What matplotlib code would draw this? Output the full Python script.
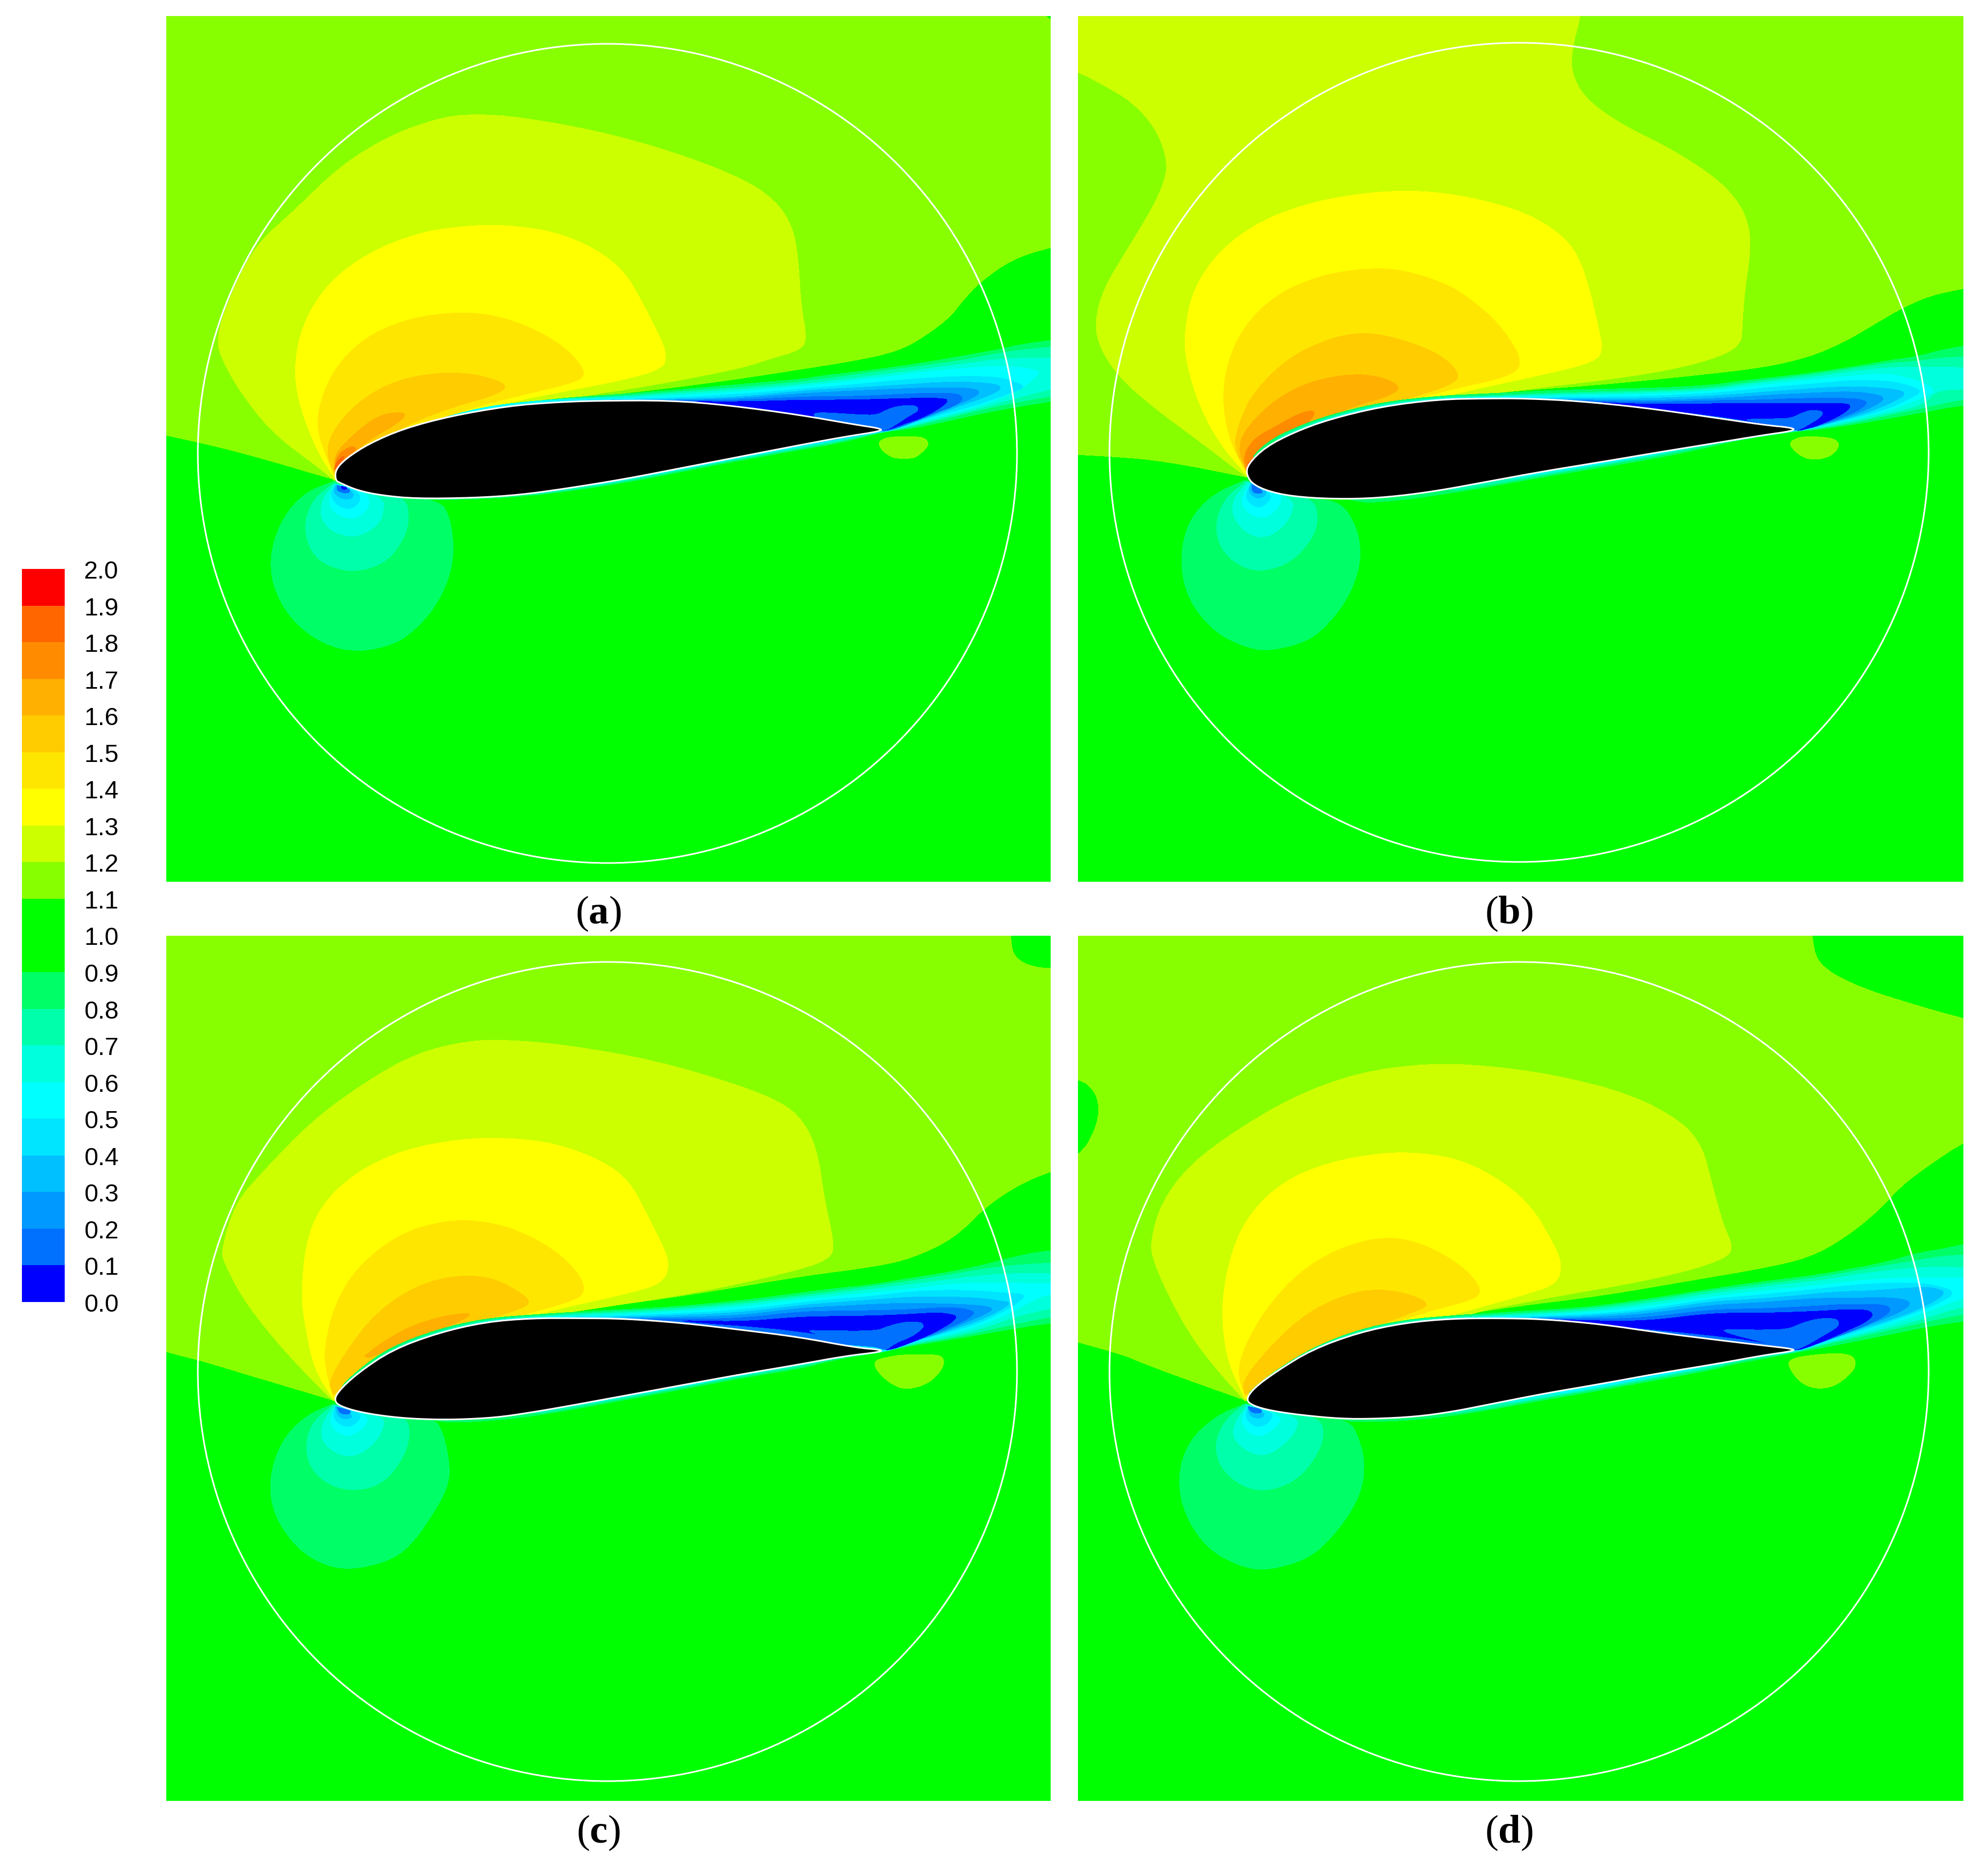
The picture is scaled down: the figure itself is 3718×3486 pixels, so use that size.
import matplotlib
matplotlib.use("Agg")
import matplotlib.pyplot as plt
import numpy as np
from matplotlib.colors import BoundaryNorm, ListedColormap
from matplotlib.patches import Circle

W, H = 3718, 3487

# colour bar: one colour per 0.1 band, bottom to top
levels = [round(i * 0.1, 1) for i in range(21)]
band_colors = ["#0000ff", "#0070ff", "#0099ff", "#00c0ff", "#00e5ff", "#00ffff", "#00ffdd",
               "#00ffaa", "#00ff66", "#00ff00", "#00ff00", "#88ff00", "#ccff00", "#ffff00",
               "#ffe600", "#ffcc00", "#ffb000", "#ff8c00", "#ff6600", "#ff0000"]
captions = ["a", "b", "c", "d"]

# contours, (band, outline). Coordinates are crop coordinates,
# turned to image pixels with the frames further down
field_a = [
    (1.0, [(-300, 840), (10, 950), (65, 968), (150, 1000), (300, 1068), (300, 1068), (300, 1068), (660, 860), (800, 838), (950, 810), (1100, 775), (1200, 750), (1260, 730), (1300, 705), (1360, 640), (1385, 590), (1415, 540), (1470, 480), (1535, 448), (1800, 350), (1800, 2500), (-300, 2500)]),
    (1.0, [(1528, -190), (1528, -160), (1600, -150), (1600, -190)]),
    (1.2, [(300, 1068), (270, 1030), (200, 950), (150, 860), (110, 760), (95, 690), (125, 560), (165, 440), (230, 350), (310, 230), (400, 145), (490, 98), (550, 92), (620, 100), (750, 135), (880, 190), (1000, 260), (1060, 320), (1090, 390), (1100, 470), (1105, 600), (1115, 690), (1105, 720), (1050, 745), (1000, 770), (850, 815), (700, 850), (620, 880)]),
    (1.3, [(300, 1060), (270, 990), (240, 870), (230, 770), (245, 650), (290, 540), (360, 460), (450, 405), (540, 388), (600, 388), (680, 405), (750, 450), (800, 510), (830, 590), (860, 680), (873, 730), (868, 770), (800, 800), (700, 830), (600, 860), (500, 900), (400, 960), (320, 1030)]),
    (1.4, [(300, 1055), (285, 1000), (270, 930), (275, 860), (300, 770), (350, 690), (420, 640), (500, 620), (570, 625), (640, 660), (700, 715), (735, 780), (720, 805), (640, 835), (560, 865), (480, 905), (400, 955), (330, 1020)]),
    (1.5, [(300, 1050), (285, 990), (300, 930), (340, 860), (400, 805), (470, 782), (530, 782), (580, 800), (600, 820), (570, 845), (510, 870), (440, 910), (380, 960), (320, 1025)]),
    (1.6, [(300, 1045), (300, 1000), (330, 950), (375, 895), (415, 885), (425, 895), (400, 925), (360, 960), (330, 1000), (305, 1035)]),
    (1.7, [(300, 1040), (305, 1000), (330, 975), (340, 985), (320, 1015)]),
    (1.8, [(300, 1040), (305, 1015), (320, 1000), (310, 1025)]),
    (0.8, [(300, 1070), (250, 1100), (212, 1165), (190, 1255), (192, 1345), (225, 1440), (280, 1505), (340, 1527), (405, 1505), (440, 1465), (472, 1410), (497, 1335), (507, 1255), (500, 1170), (482, 1120), (380, 1105)]),
    (0.7, [(300, 1075), (265, 1115), (248, 1180), (255, 1245), (280, 1292), (335, 1315), (390, 1287), (420, 1225), (430, 1170), (422, 1110), (350, 1100)]),
    (0.6, [(300, 1078), (280, 1115), (275, 1165), (295, 1205), (335, 1222), (370, 1195), (385, 1160), (385, 1110)]),
    (0.5, [(303, 1078), (290, 1115), (295, 1150), (325, 1172), (350, 1160), (363, 1125), (350, 1095)]),
    (0.4, [(303, 1078), (292, 1105), (305, 1135), (325, 1147), (343, 1130), (345, 1100)]),
    (0.3, [(303, 1080), (298, 1100), (312, 1118), (330, 1118), (335, 1100)]),
    (0.1, [(305, 1082), (304, 1095), (318, 1103), (327, 1100), (326, 1090)]),
    (0.0, [(312, 1084), (313, 1092), (322, 1092), (321, 1086)]),
]
field_b = [
    (1.0, [(-300, 1050), (50, 1072), (150, 1085), (287, 1122), (287, 1122), (287, 1122), (640, 935), (750, 920), (900, 905), (1050, 885), (1180, 865), (1260, 840), (1320, 805), (1370, 765), (1420, 725), (1470, 695), (1525, 680), (1800, 600), (1800, 2400), (-300, 2400)]),
    (1.2, [(287, 1120), (200, 1030), (130, 960), (70, 890), (35, 820), (25, 760), (40, 680), (80, 590), (125, 490), (148, 420), (150, 370), (130, 300), (90, 240), (40, 200), (-10, 165), (-150, 100), (-150, -150), (880, -150), (865, 38), (850, 110), (848, 170), (870, 230), (930, 290), (1020, 350), (1100, 420), (1140, 480), (1157, 540), (1157, 600), (1148, 680), (1143, 770), (1143, 800), (1120, 830), (1050, 860), (950, 885), (800, 910), (640, 935)]),
    (1.3, [(287, 1115), (240, 1040), (205, 950), (183, 850), (180, 780), (195, 680), (240, 590), (310, 520), (400, 475), (500, 452), (590, 448), (680, 465), (770, 500), (830, 550), (860, 600), (880, 680), (895, 770), (903, 820), (890, 850), (800, 880), (680, 915), (600, 940), (450, 990), (340, 1060)]),
    (1.4, [(287, 1110), (260, 1040), (247, 960), (250, 870), (280, 770), (340, 690), (420, 645), (500, 630), (560, 635), (640, 670), (700, 730), (740, 790), (765, 855), (740, 885), (640, 915), (570, 940), (450, 985), (340, 1060)]),
    (1.5, [(287, 1105), (265, 1050), (275, 990), (300, 920), (360, 840), (430, 795), (490, 780), (550, 795), (620, 830), (658, 880), (640, 905), (570, 935), (450, 985), (340, 1055)]),
    (1.6, [(287, 1105), (272, 1050), (290, 1000), (340, 935), (400, 895), (470, 878), (520, 885), (555, 908), (535, 930), (470, 955), (400, 995), (340, 1045)]),
    (1.7, [(287, 1100), (282, 1070), (300, 1030), (340, 1000), (380, 970), (405, 963), (403, 980), (380, 1010), (340, 1045), (310, 1075)]),
    (1.8, [(287, 1105), (290, 1085), (310, 1065), (325, 1055), (305, 1085)]),
    (0.8, [(285, 1128), (230, 1160), (188, 1220), (172, 1310), (185, 1405), (232, 1485), (290, 1522), (330, 1528), (395, 1505), (432, 1460), (462, 1405), (480, 1345), (485, 1295), (478, 1240), (452, 1180), (400, 1170)]),
    (0.7, [(287, 1130), (250, 1170), (233, 1230), (242, 1288), (275, 1330), (315, 1343), (365, 1320), (400, 1268), (412, 1220), (403, 1170), (340, 1160)]),
    (0.6, [(290, 1132), (265, 1170), (262, 1210), (285, 1250), (315, 1265), (345, 1245), (365, 1210), (370, 1170)]),
    (0.5, [(293, 1135), (278, 1170), (285, 1200), (310, 1218), (335, 1205), (350, 1170), (340, 1155)]),
    (0.4, [(295, 1135), (285, 1165), (295, 1185), (310, 1193), (325, 1180), (332, 1160)]),
    (0.3, [(295, 1135), (290, 1155), (305, 1172), (320, 1165), (322, 1150)]),
    (0.1, [(297, 1138), (297, 1155), (308, 1160), (318, 1155)]),
]
field_c = [
    (1.0, [(-300, 870), (10, 992), (65, 1010), (150, 1045), (298, 1105), (298, 1105), (298, 1105), (620, 915), (700, 895), (800, 880), (950, 850), (1100, 815), (1240, 790), (1300, 770), (1370, 725), (1425, 650), (1480, 600), (1535, 568), (1800, 450), (1800, 2400), (-300, 2400)]),
    (1.0, [(1467, -100), (1467, 40), (1480, 70), (1505, 85), (1535, 90), (1700, 95), (1700, -100)]),
    (1.2, [(298, 1105), (250, 1040), (190, 950), (140, 860), (110, 780), (105, 750), (130, 640), (175, 570), (260, 450), (350, 360), (440, 290), (530, 260), (600, 258), (700, 270), (850, 305), (1000, 365), (1080, 410), (1115, 460), (1135, 530), (1145, 630), (1163, 740), (1155, 770), (1110, 795), (950, 845), (800, 878), (640, 910)]),
    (1.3, [(298, 1100), (265, 1030), (250, 930), (243, 860), (250, 740), (275, 650), (335, 570), (420, 515), (520, 490), (600, 488), (680, 500), (760, 540), (810, 590), (840, 670), (870, 750), (878, 790), (865, 830), (800, 855), (700, 885), (620, 912), (480, 965), (370, 1030)]),
    (1.4, [(298, 1095), (285, 1030), (283, 980), (300, 880), (340, 790), (410, 715), (480, 685), (540, 680), (610, 700), (680, 750), (725, 810), (733, 855), (700, 875), (620, 905), (480, 965), (370, 1030)]),
    (1.5, [(298, 1090), (290, 1060), (320, 990), (370, 900), (440, 835), (510, 810), (570, 815), (615, 845), (642, 875), (610, 895), (520, 930), (430, 985), (360, 1040)]),
    (1.6, [(352, 1000), (380, 970), (430, 930), (490, 905), (535, 898), (530, 910), (470, 945), (410, 975), (360, 1005)]),
    (0.8, [(298, 1112), (250, 1140), (208, 1200), (187, 1290), (196, 1375), (238, 1455), (290, 1495), (340, 1500), (405, 1475), (440, 1430), (470, 1370), (495, 1310), (500, 1260), (488, 1180), (472, 1145), (400, 1140)]),
    (0.7, [(298, 1115), (265, 1150), (250, 1200), (257, 1262), (293, 1305), (340, 1317), (385, 1298), (420, 1238), (432, 1180), (422, 1140), (350, 1130)]),
    (0.6, [(300, 1115), (278, 1160), (278, 1200), (305, 1230), (335, 1237), (370, 1205), (388, 1160), (380, 1140)]),
    (0.5, [(302, 1118), (292, 1150), (300, 1175), (325, 1190), (350, 1170), (362, 1140)]),
    (0.4, [(302, 1118), (297, 1145), (315, 1165), (330, 1165), (347, 1145), (340, 1130)]),
    (0.3, [(302, 1118), (305, 1140), (320, 1150), (335, 1140)]),
    (0.1, [(305, 1120), (310, 1135), (325, 1137), (330, 1128)]),
]
field_d = [
    (1.0, [(-300, 870), (50, 985), (130, 1030), (285, 1105), (285, 1105), (285, 1105), (620, 912), (750, 885), (900, 860), (1050, 825), (1180, 795), (1260, 770), (1320, 725), (1380, 660), (1420, 600), (1470, 550), (1525, 500), (1800, 300), (1800, 2400), (-300, 2400)]),
    (1.0, [(1263, -100), (1265, 50), (1290, 95), (1350, 135), (1430, 170), (1525, 207), (1800, 300), (1800, -100)]),
    (1.0, [(-100, 330), (0, 350), (25, 380), (33, 420), (25, 470), (0, 528), (-100, 600)]),
    (1.2, [(285, 1105), (235, 1030), (190, 950), (150, 850), (125, 770), (122, 730), (140, 640), (190, 550), (270, 470), (370, 390), (480, 335), (600, 313), (700, 318), (820, 340), (950, 385), (1040, 450), (1075, 510), (1090, 590), (1110, 690), (1128, 745), (1115, 770), (1050, 800), (950, 830), (800, 865), (640, 908)]),
    (1.3, [(285, 1100), (260, 1030), (248, 960), (245, 870), (260, 760), (290, 670), (350, 590), (430, 545), (520, 523), (590, 523), (660, 540), (730, 590), (780, 650), (815, 730), (832, 780), (825, 830), (770, 855), (640, 905), (480, 960), (370, 1030)]),
    (1.4, [(285, 1095), (272, 1040), (283, 980), (320, 890), (380, 800), (450, 745), (520, 720), (580, 730), (640, 770), (680, 815), (695, 855), (660, 875), (600, 895), (480, 950), (370, 1025)]),
    (1.5, [(285, 1090), (280, 1060), (320, 990), (380, 910), (440, 865), (500, 842), (560, 850), (608, 878), (570, 900), (480, 945), (380, 1015), (310, 1080)]),
    (0.8, [(285, 1112), (235, 1140), (187, 1200), (168, 1285), (181, 1375), (222, 1455), (280, 1495), (325, 1503), (395, 1475), (435, 1425), (468, 1365), (487, 1310), (492, 1250), (481, 1190), (464, 1150), (400, 1145)]),
    (0.7, [(285, 1112), (250, 1150), (232, 1205), (242, 1262), (278, 1305), (320, 1318), (370, 1295), (405, 1243), (422, 1190), (415, 1145), (350, 1130)]),
    (0.6, [(288, 1115), (265, 1160), (265, 1195), (290, 1225), (320, 1235), (355, 1205), (375, 1170), (375, 1140)]),
    (0.5, [(290, 1118), (277, 1150), (290, 1180), (312, 1190), (340, 1165), (350, 1140)]),
    (0.4, [(290, 1118), (285, 1145), (300, 1165), (318, 1165), (335, 1140), (325, 1130)]),
    (0.3, [(290, 1118), (292, 1140), (310, 1148), (322, 1135)]),
    (0.1, [(290, 1118), (295, 1132), (312, 1135), (315, 1125)]),
]

# wake layers, (band, upper surface part, wake crop part, lower surface part)
wake_a = [
    (0.8, [(302, 1050), (330, 1012), (380, 962), (450, 922), (540, 882), (620, 862), (700, 848), (800, 838), (900, 826), (1000, 812)],
     [(0, 330), (120, 310), (300, 290), (500, 265), (700, 235), (900, 200), (1100, 165), (1250, 130), (1600, 90), (1600, 425), (1395, 455), (1150, 495), (950, 535), (750, 580), (600, 610), (440, 628), (370, 650), (200, 690), (0, 725)],
     [(1000, 1015), (900, 1045), (800, 1075), (700, 1098), (600, 1115), (500, 1120), (440, 1119)]),
    (0.7, [(305, 1046), (335, 1008), (385, 958), (455, 918), (545, 878), (625, 860), (705, 850), (800, 843), (900, 831), (1000, 820)],
     [(0, 345), (300, 305), (600, 265), (900, 225), (1150, 175), (1395, 150), (1600, 130), (1600, 400), (1395, 425), (1150, 470), (950, 515), (750, 565), (600, 600), (460, 628), (370, 643), (200, 682), (0, 717)],
     [(1000, 1011), (900, 1041), (800, 1071), (700, 1095), (620, 1112)]),
    (0.6, [(340, 1005), (390, 955), (460, 915), (550, 876), (630, 858), (710, 850), (800, 846), (900, 836), (1000, 826)],
     [(0, 360), (300, 325), (600, 285), (900, 245), (1150, 212), (1395, 212), (1600, 212), (1600, 350), (1395, 385), (1170, 445), (950, 505), (750, 555), (600, 595), (470, 625), (370, 638), (200, 675), (0, 710)],
     [(1000, 1009), (900, 1039), (800, 1068), (720, 1090)]),
    (0.5, [(345, 1000), (395, 951), (465, 911), (555, 873), (635, 858), (715, 853), (800, 850), (900, 842), (1000, 832)],
     [(0, 370), (300, 340), (600, 300), (900, 268), (1150, 255), (1300, 275), (1340, 293), (1260, 360), (1190, 410), (950, 495), (750, 545), (600, 590), (480, 622), (370, 632), (200, 668), (0, 705)],
     [(1000, 1007), (900, 1037), (800, 1066)]),
    (0.4, [(640, 860), (720, 854), (800, 852), (900, 847), (1000, 838)],
     [(0, 385), (300, 360), (600, 330), (900, 312), (1100, 318), (1190, 345), (1255, 372), (1190, 402), (950, 485), (750, 535), (600, 585), (490, 620), (0, 700)],
     [(1000, 1006), (900, 1036)]),
    (0.3, [(720, 856), (800, 853), (900, 851), (1000, 846)],
     [(0, 395), (300, 378), (600, 360), (800, 345), (1050, 350), (1130, 375), (1060, 420), (900, 475), (750, 530), (600, 578), (500, 612), (440, 625)],
     [(1000, 1004)]),
    (0.2, [(760, 856), (900, 854), (1000, 850)],
     [(0, 410), (300, 395), (700, 378), (950, 378), (1008, 405), (930, 450), (800, 500), (650, 555), (510, 610), (440, 622)], []),
    (0.1, [(800, 856), (900, 855), (1000, 855)],
     [(0, 428), (300, 428), (680, 408), (860, 408), (910, 435), (860, 480), (760, 515), (640, 565), (490, 620), (440, 622)], []),
    (0.0, [(885, 857), (1000, 859)],
     [(0, 447), (300, 447), (610, 437), (800, 437), (820, 455), (770, 495), (680, 545), (560, 585), (470, 618), (440, 612), (0, 530)], []),
    (0.1, [], [(60, 530), (90, 515), (320, 530), (420, 532), (490, 495), (560, 478), (630, 478), (650, 490), (650, 510), (610, 530), (520, 590), (475, 615), (420, 620), (100, 560)], []),
]
wake_b = [
    (0.8, [(288, 1090), (320, 1040), (370, 1005), (430, 975), (520, 945), (620, 930), (700, 925), (850, 915), (980, 912)],
     [(0, 365), (200, 335), (400, 315), (600, 290), (800, 260), (1000, 225), (1150, 205), (1300, 165), (1413, 145), (1700, 110), (1700, 450), (1413, 475), (1220, 510), (1000, 550), (800, 585), (620, 610), (470, 625), (370, 640), (180, 665), (0, 710)],
     [(1000, 1075), (900, 1098), (800, 1120), (700, 1145), (620, 1162), (540, 1177), (470, 1182)]),
    (0.7, [(322, 1042), (372, 1008), (432, 978), (522, 948), (622, 933), (700, 930), (850, 922), (980, 918)],
     [(0, 380), (200, 350), (400, 325), (600, 300), (800, 270), (1000, 240), (1150, 230), (1300, 210), (1413, 205), (1700, 200), (1700, 420), (1413, 440), (1200, 490), (1000, 530), (800, 575), (620, 605), (480, 622), (370, 635), (180, 658), (0, 700)],
     [(1000, 1070), (900, 1093), (800, 1116), (700, 1140), (620, 1158)]),
    (0.6, [(375, 1010), (435, 980), (525, 950), (625, 935), (700, 932), (850, 926), (980, 922)],
     [(0, 390), (200, 360), (400, 335), (600, 315), (800, 285), (1000, 265), (1170, 260), (1413, 265), (1700, 270), (1700, 375), (1413, 385), (1260, 395), (1200, 470), (1000, 520), (800, 565), (620, 600), (490, 620), (370, 630), (180, 652), (0, 690)],
     [(1000, 1067), (900, 1090), (800, 1113), (720, 1132)]),
    (0.5, [(530, 952), (628, 936), (700, 934), (850, 930), (980, 926)],
     [(0, 400), (200, 375), (400, 350), (600, 330), (800, 310), (1000, 295), (1180, 345), (1260, 390), (1200, 430), (1000, 505), (800, 555), (620, 595), (500, 618), (370, 628), (180, 648), (0, 685)],
     [(1000, 1065), (900, 1088), (800, 1110)]),
    (0.4, [(630, 937), (700, 935), (850, 933), (980, 931)],
     [(0, 410), (200, 390), (400, 370), (600, 355), (800, 335), (1000, 340), (1110, 365), (1190, 400), (1090, 450), (1000, 495), (800, 548), (620, 590), (510, 615)],
     [(1000, 1063), (900, 1086)]),
    (0.3, [(700, 936), (850, 937), (980, 936)],
     [(0, 425), (200, 410), (400, 395), (600, 380), (800, 370), (1040, 385), (1095, 412), (1040, 450), (900, 510), (750, 555), (600, 590), (520, 612)], []),
    (0.2, [(740, 936), (850, 939), (980, 941)],
     [(0, 440), (200, 428), (500, 410), (800, 398), (940, 418), (975, 440), (920, 480), (800, 530), (650, 580), (520, 618)], []),
    (0.1, [(770, 937), (850, 941), (980, 945)],
     [(0, 450), (300, 447), (500, 437), (800, 437), (860, 450), (877, 465), (830, 505), (720, 550), (600, 590), (500, 620)], []),
    (0.0, [(860, 943), (980, 950)],
     [(0, 468), (300, 465), (540, 465), (760, 465), (787, 485), (740, 525), (640, 575), (520, 615), (470, 620), (360, 590), (0, 530)], []),
    (0.1, [], [(180, 555), (360, 552), (450, 550), (520, 515), (570, 503), (620, 510), (628, 525), (600, 555), (500, 612), (470, 620), (430, 600), (240, 570)], []),
]
wake_c = [
    (0.8, [(300, 1090), (338, 1035), (398, 978), (478, 937), (558, 912), (640, 903), (760, 893), (880, 885), (1000, 870)],
     [(0, 355), (200, 330), (400, 310), (600, 275), (800, 245), (1000, 205), (1150, 165), (1280, 135), (1395, 120), (1700, 85), (1700, 500), (1395, 525), (1200, 555), (1000, 590), (800, 625), (600, 655), (450, 690), (280, 715), (130, 745), (0, 780)],
     [(1000, 1052), (900, 1078), (800, 1103), (700, 1128), (620, 1145), (540, 1155), (470, 1155)]),
    (0.7, [(342, 1037), (402, 980), (480, 940), (560, 915), (642, 906), (760, 897), (880, 889), (1000, 875)],
     [(0, 370), (200, 345), (400, 320), (600, 290), (800, 260), (1000, 225), (1150, 205), (1280, 195), (1395, 190), (1700, 170), (1700, 470), (1395, 490), (1200, 530), (1000, 575), (800, 615), (600, 650), (460, 688), (280, 710), (130, 738), (0, 770)],
     [(1000, 1048), (900, 1074), (800, 1099), (700, 1124), (630, 1140)]),
    (0.6, [(405, 982), (482, 943), (562, 917), (645, 908), (760, 901), (880, 893), (1000, 880)],
     [(0, 380), (200, 360), (400, 335), (600, 310), (800, 285), (1000, 260), (1150, 250), (1280, 245), (1395, 250), (1700, 260), (1700, 410), (1395, 440), (1200, 490), (1000, 560), (800, 605), (600, 645), (470, 686), (280, 706), (130, 732), (0, 760)],
     [(1000, 1046), (900, 1072), (800, 1096), (720, 1116)]),
    (0.5, [(485, 945), (565, 918), (648, 909), (760, 905), (880, 897), (1000, 886)],
     [(0, 395), (200, 375), (400, 355), (600, 335), (800, 310), (1000, 300), (1150, 300), (1300, 305), (1700, 310), (1700, 340), (1395, 355), (1250, 420), (1170, 470), (1000, 540), (800, 595), (600, 640), (480, 683), (280, 702), (130, 727), (0, 750)],
     [(1000, 1044), (900, 1070), (800, 1094)]),
    (0.4, [(650, 910), (760, 907), (880, 901), (1000, 892)],
     [(0, 410), (200, 390), (400, 375), (600, 350), (800, 340), (1000, 345), (1150, 358), (1265, 365), (1190, 425), (1150, 450), (1000, 525), (800, 585), (600, 632), (490, 680), (130, 722), (0, 742)],
     [(1000, 1042), (900, 1068)]),
    (0.3, [(720, 911), (880, 905), (1000, 898)],
     [(0, 425), (200, 410), (400, 395), (600, 380), (800, 378), (1000, 385), (1100, 400), (1175, 410), (1120, 450), (1000, 510), (800, 575), (640, 625), (500, 678)], []),
    (0.2, [(760, 911), (880, 909), (1000, 905)],
     [(0, 440), (200, 432), (500, 415), (700, 415), (1000, 425), (1078, 445), (1030, 475), (900, 530), (750, 590), (600, 635), (490, 680)], []),
    (0.1, [(800, 912), (880, 913), (1000, 912)],
     [(0, 460), (300, 458), (620, 450), (750, 440), (880, 440), (950, 455), (968, 472), (920, 510), (800, 560), (650, 620), (480, 680)], []),
    (0.0, [(860, 915), (1000, 920)],
     [(0, 490), (300, 488), (550, 480), (740, 468), (790, 470), (850, 480), (870, 493), (830, 530), (720, 590), (600, 640), (480, 682), (440, 662), (0, 565)], []),
    (0.1, [], [(0, 565), (160, 570), (420, 570), (470, 548), (570, 520), (660, 520), (682, 535), (678, 555), (620, 600), (520, 640), (470, 680), (440, 665), (200, 620)], []),
]
wake_d = [
    (0.8, [(286, 1095), (302, 1072), (342, 1030), (402, 980), (480, 938), (560, 915), (640, 905), (760, 895), (880, 885), (980, 866)],
     [(0, 335), (200, 305), (400, 280), (600, 255), (800, 220), (1000, 180), (1150, 135), (1300, 110), (1413, 85), (1700, 40), (1700, 490), (1413, 515), (1220, 545), (1000, 590), (850, 620), (650, 660), (480, 690), (300, 725), (130, 755), (0, 790)],
     [(1000, 1055), (900, 1080), (800, 1103), (700, 1128), (600, 1148), (500, 1155), (450, 1152)]),
    (0.7, [(305, 1072), (345, 1030), (405, 980), (482, 940), (562, 917), (642, 908), (760, 900), (880, 889), (980, 871)],
     [(0, 345), (200, 320), (400, 295), (600, 270), (800, 235), (1000, 200), (1150, 175), (1300, 150), (1413, 145), (1700, 130), (1700, 450), (1413, 475), (1200, 520), (1000, 565), (800, 610), (620, 650), (480, 688), (300, 715), (130, 745), (0, 780)],
     [(1000, 1050), (900, 1076), (800, 1098), (700, 1124), (620, 1140)]),
    (0.6, [(350, 1030), (410, 980), (485, 943), (565, 920), (645, 910), (760, 903), (880, 894), (980, 877)],
     [(0, 360), (200, 335), (400, 310), (600, 290), (800, 255), (1000, 230), (1150, 215), (1300, 210), (1413, 215), (1700, 220), (1700, 400), (1413, 430), (1200, 500), (1000, 550), (800, 600), (620, 645), (490, 685), (300, 710), (130, 738), (0, 770)],
     [(1000, 1047), (900, 1073), (800, 1096), (720, 1116)]),
    (0.5, [(490, 946), (570, 921), (650, 911), (760, 906), (880, 898), (980, 884)],
     [(0, 378), (200, 355), (400, 335), (600, 315), (800, 290), (1000, 275), (1150, 270), (1300, 270), (1700, 270), (1700, 340), (1413, 380), (1200, 470), (1000, 530), (800, 590), (620, 640), (500, 680), (300, 705), (130, 730), (0, 762)],
     [(1000, 1045), (900, 1071), (800, 1094)]),
    (0.4, [(650, 911), (760, 908), (880, 902), (980, 890)],
     [(0, 390), (200, 375), (400, 355), (600, 335), (800, 312), (1000, 300), (1200, 300), (1390, 350), (1250, 430), (1000, 520), (800, 580), (620, 635), (500, 678), (130, 725), (0, 755)],
     [(1000, 1043), (900, 1069)]),
    (0.3, [(720, 911), (880, 906), (980, 895)],
     [(0, 405), (200, 395), (400, 380), (700, 350), (900, 345), (1150, 325), (1240, 325), (1330, 355), (1190, 440), (1000, 510), (800, 570), (640, 625), (510, 675)], []),
    (0.2, [(740, 911), (880, 910), (980, 901)],
     [(0, 425), (300, 410), (600, 385), (800, 388), (920, 380), (1080, 390), (1125, 417), (1070, 460), (950, 510), (800, 565), (640, 625), (500, 678)], []),
    (0.1, [(760, 911), (880, 914), (980, 910)],
     [(0, 450), (300, 445), (600, 430), (740, 420), (970, 420), (1015, 450), (970, 490), (870, 540), (740, 590), (600, 640), (480, 678)], []),
    (0.0, [(770, 912), (880, 917), (980, 918)],
     [(0, 470), (320, 470), (600, 460), (750, 450), (870, 450), (915, 478), (870, 520), (760, 570), (650, 620), (520, 670), (470, 680), (430, 655), (0, 590)], []),
    (0.1, [], [(0, 560), (250, 565), (430, 562), (500, 530), (600, 500), (690, 500), (717, 515), (715, 545), (640, 590), (520, 660), (460, 680), (400, 660)], []),
]

# small 1.1-1.2 patch under the trailing edge, wake crop coordinates
patch_a = [(432, 680), (470, 660), (530, 652), (650, 652), (695, 665), (710, 695), (690, 725), (650, 760), (620, 775), (525, 775), (490, 760), (450, 730), (435, 705)]
patch_b = [(437, 690), (480, 660), (550, 650), (680, 660), (715, 685), (717, 710), (690, 745), (650, 770), (580, 783), (520, 770), (470, 735)]
patch_c = [(402, 755), (425, 730), (490, 715), (570, 703), (750, 703), (785, 715), (800, 750), (770, 805), (720, 855), (640, 890), (560, 895), (490, 860), (430, 805)]
patch_d = [(430, 755), (450, 730), (510, 712), (680, 695), (780, 702), (815, 740), (800, 790), (750, 840), (680, 885), (590, 895), (520, 870), (470, 825)]

foil_a = [(302, 1068), (302, 1040), (320, 1010), (360, 970), (420, 930), (500, 897), (600, 870), (680, 860), (750, 856), (880, 855), (980, 868), (1100, 893), (1200, 920), (1243, 930), (1243, 937), (1180, 952), (1100, 975), (1000, 1005), (900, 1035), (800, 1065), (700, 1090), (620, 1107), (540, 1115), (440, 1117), (380, 1108), (340, 1095), (310, 1075)]
foil_b = [(287, 1115), (290, 1090), (320, 1050), (370, 1015), (430, 985), (520, 955), (620, 938), (700, 936), (770, 936), (860, 942), (970, 957), (1080, 978), (1180, 998), (1232, 1005), (1232, 1012), (1180, 1022), (1100, 1040), (1000, 1062), (900, 1085), (800, 1107), (700, 1132), (620, 1152), (550, 1165), (480, 1172), (400, 1170), (340, 1160), (300, 1140)]
foil_c = [(300, 1107), (305, 1085), (340, 1040), (400, 985), (480, 945), (560, 920), (640, 911), (720, 911), (800, 912), (900, 922), (1000, 938), (1100, 955), (1200, 980), (1243, 985), (1243, 990), (1180, 1000), (1100, 1020), (1000, 1043), (900, 1068), (800, 1093), (700, 1118), (640, 1132), (580, 1144), (510, 1149), (450, 1148), (400, 1143), (350, 1133), (315, 1120)]
foil_d = [(286, 1103), (300, 1075), (340, 1035), (400, 985), (480, 945), (560, 922), (640, 912), (720, 911), (800, 913), (900, 925), (1000, 945), (1100, 962), (1180, 975), (1232, 983), (1232, 988), (1180, 998), (1100, 1018), (1000, 1040), (900, 1065), (800, 1088), (700, 1115), (640, 1131), (580, 1142), (510, 1147), (450, 1147), (380, 1138), (330, 1128), (300, 1117)]

# panel box in image pixels (left, right, top, bottom)
boxes = [(311, 1965, 31, 1650), (2016, 3672, 31, 1650), (311, 1965, 1751, 3369), (2016, 3672, 1751, 3369)]
# crop origin and scale of the outlines above
main_frames = [(300, 150, 0.9224, 1.4255), (2020, 0, 0.9234, 1.2544), (300, 1740, 0.9224, 1.2544), (2020, 1740, 0.9234, 1.2544)]
wake_frames = [(1500, 600, 3, 3), (3200, 600, 3, 3), (1500, 2300, 3, 3), (3200, 2300, 3, 3)]
circles = [(1136, 849, 766), (2841, 847, 766), (1136, 2566, 766), (2841, 2566, 766)]
caption_xy = [(1119, 1709), (2822, 1709), (1119, 3428), (2822, 3428)]

fields = [field_a, field_b, field_c, field_d]
wakes = [wake_a, wake_b, wake_c, wake_d]
patches = [patch_a, patch_b, patch_c, patch_d]
foils = [foil_a, foil_b, foil_c, foil_d]

plt.rcParams["mathtext.fontset"] = "custom"
plt.rcParams["mathtext.rm"] = "Liberation Serif"
plt.rcParams["mathtext.bf"] = "Liberation Serif:bold"

cmap = ListedColormap(band_colors)
norm = BoundaryNorm(levels, cmap.N)


def to_px(pts, frame):
    x0, y0, sx, sy = frame
    return [(x0 + x / sx, y0 + y / sy) for x, y in pts]


def smooth(pts, rounds=2):
    # corner cutting, the traced outlines are quite sparse
    p = np.array(pts, dtype=float)
    for _ in range(rounds):
        q = np.roll(p, -1, axis=0)
        p = np.column_stack([0.75 * p + 0.25 * q, 0.25 * p + 0.75 * q]).reshape(-1, 2)
    return p


def add_band(ax, band, pts):
    p = smooth(pts)
    ax.fill(p[:, 0], p[:, 1], color=cmap(norm(band + 0.05)), lw=0, antialiased=False)


fig = plt.figure(figsize=(W / 100, H / 100), dpi=100, facecolor="white")

for i in range(4):
    left, right, top, bottom = boxes[i]
    ax = fig.add_axes([left / W, 1 - bottom / H, (right - left) / W, (bottom - top) / H])
    ax.set_xlim(left, right)
    ax.set_ylim(bottom, top)
    ax.axis("off")
    ax.fill([left, right, right, left], [top, top, bottom, bottom], color=cmap(norm(1.15)), lw=0)

    main, crop = main_frames[i], wake_frames[i]
    for band, pts in fields[i]:
        # the outlines start at the stagnation point, keep that corner sharp
        if band != 1.0:
            pts = [pts[0], pts[0]] + pts
        add_band(ax, band, to_px(pts, main))
    add_band(ax, 1.1, to_px(patches[i], crop))
    for band, upper, mid, lower in wakes[i]:
        add_band(ax, band, to_px(upper, main) + to_px(mid, crop) + to_px(lower, main))

    foil = smooth(to_px(foils[i], main))
    ax.fill(foil[:, 0], foil[:, 1], facecolor="black", edgecolor="white", lw=2.2)

    cx, cy, r = circles[i]
    ax.add_patch(Circle((cx, cy), r, fill=False, edgecolor="white", lw=2.2))

    fig.text(caption_xy[i][0] / W, 1 - caption_xy[i][1] / H, "($\\mathbf{%s}$)" % captions[i],
             family="Liberation Serif", fontsize=54, ha="center", va="center")

# colour bar on the left
cax = fig.add_axes([41 / W, 1 - 2436 / H, 80 / W, 1371 / H])
cax.pcolormesh([0, 1], levels, np.array(levels[:-1]).reshape(-1, 1) + 0.05, cmap=cmap, norm=norm)
cax.set_xticks([])
cax.yaxis.tick_right()
cax.set_yticks(levels)
cax.set_yticklabels(["%.1f" % v for v in levels], family="Liberation Sans", fontsize=33.5)
cax.tick_params(axis="y", length=0, pad=26)
for s in cax.spines.values():
    s.set_visible(False)

fig.savefig("out.png", dpi=100, facecolor="white")
